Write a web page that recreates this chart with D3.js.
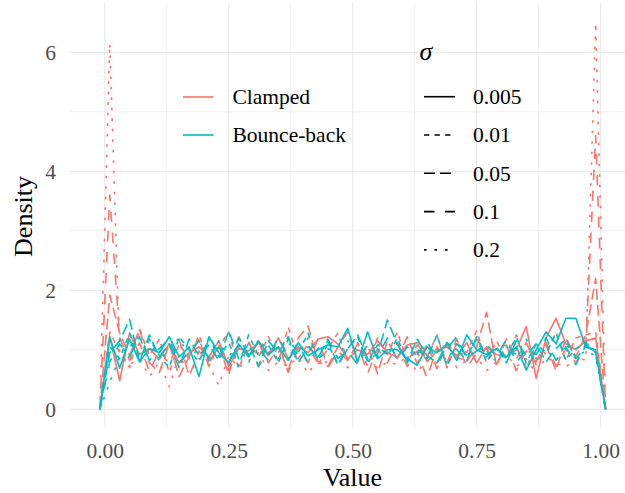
<!DOCTYPE html>
<html>
<head>
<meta charset="utf-8">
<script src="https://cdn.jsdelivr.net/npm/d3@7"></script>
<style>
  body { margin: 0; background: #fff; }
  svg text { font-family: "Liberation Serif", "Times New Roman", "DejaVu Serif", serif; }
</style>
</head>
<body>
<div id="chart"></div>
<script>
// bin centres of the frequency polygon (binwidth 0.02, one empty bin each side)
const binCenters = [
  -0.01, 0.01, 0.03, 0.05, 0.07, 0.09, 0.11, 0.13, 0.15, 0.17,
  0.19, 0.21, 0.23, 0.25, 0.27, 0.29, 0.31, 0.33, 0.35, 0.37,
  0.39, 0.41, 0.43, 0.45, 0.47, 0.49, 0.51, 0.53, 0.55, 0.57,
  0.59, 0.61, 0.63, 0.65, 0.67, 0.69, 0.71, 0.73, 0.75, 0.77,
  0.79, 0.81, 0.83, 0.85, 0.87, 0.89, 0.91, 0.93, 0.95, 0.97,
  0.99, 1.01
];

const methods = ["Clamped", "Bounce-back"];
const sigmaLabels = ["0.005", "0.01", "0.05", "0.1", "0.2"];

const xTicks = [0, 0.25, 0.5, 0.75, 1];
const xMinor = [0.125, 0.375, 0.625, 0.875];
const yTicks = [0, 2, 4, 6];
const yMinor = [1, 3, 5];

// Clamped
const clamped005 = [
  0, 1.22, 0.48, 1.28, 0.92, 1.02, 0.85, 1.10, 0.78, 0.95,
  1.05, 0.88, 1.15, 0.72, 1.02, 0.98, 1.12, 0.90, 1.20, 0.85,
  1.05, 0.95, 1.18, 1.22, 1.10, 0.85, 1.00, 0.92, 1.15, 0.95,
  0.88, 1.08, 1.12, 0.80, 0.98, 1.05, 0.90, 1.12, 0.78, 1.05,
  0.92, 0.88, 1.00, 1.39, 0.52, 1.20, 1.53, 1.10, 1.00, 1.15,
  1.20, 0
];
const clamped01 = [
  0, 1.30, 0.95, 0.70, 1.35, 0.90, 1.18, 0.62, 1.10, 0.85,
  1.25, 0.78, 1.05, 1.30, 0.68, 1.12, 0.88, 1.22, 0.80, 1.38,
  0.85, 1.10, 0.75, 1.02, 1.28, 0.82, 1.12, 0.72, 1.20, 0.92,
  1.30, 0.80, 1.08, 0.88, 1.25, 0.70, 1.12, 0.95, 1.32, 0.78,
  1.15, 0.85, 1.25, 0.68, 1.10, 0.92, 1.30, 0.82, 1.20, 1.25,
  1.30, 0
];
const clamped05 = [
  0, 1.92, 1.28, 0.90, 1.35, 0.78, 0.62, 1.10, 0.55, 0.88,
  1.18, 0.72, 1.08, 0.58, 1.22, 0.90, 1.12, 0.78, 1.05, 0.65,
  1.20, 1.40, 0.80, 0.72, 1.05, 1.30, 0.80, 1.08, 0.60, 1.15,
  0.85, 1.22, 0.76, 1.10, 0.68, 1.12, 0.88, 0.80, 1.05, 1.63,
  0.72, 1.18, 0.85, 1.12, 0.75, 1.08, 0.65, 1.20, 0.88, 1.25,
  2.20, 0
];
const clamped1 = [
  0, 3.60, 1.20, 0.82, 1.12, 0.62, 1.00, 0.75, 1.18, 0.55,
  0.98, 0.78, 1.08, 0.65, 1.05, 1.15, 0.72, 0.95, 1.12, 0.62,
  1.02, 0.78, 1.18, 0.70, 0.98, 0.82, 1.10, 0.60, 1.02, 0.78,
  1.12, 0.72, 0.98, 0.52, 1.05, 0.78, 1.18, 0.70, 0.95, 1.02,
  0.75, 1.08, 0.65, 0.98, 0.80, 1.12, 0.72, 1.02, 0.78, 1.08,
  4.60, 0
];
const clamped2 = [
  0, 6.15, 0.95, 0.75, 0.85, 0.55, 0.80, 0.38, 0.92, 0.60,
  0.85, 0.75, 0.40, 0.90, 0.70, 0.82, 0.95, 0.65, 0.80, 0.72,
  0.88, 0.60, 0.85, 0.78, 0.92, 0.70, 0.82, 0.95, 0.68, 0.80,
  0.75, 0.90, 0.62, 0.85, 0.78, 0.95, 0.70, 0.82, 0.88, 0.65,
  0.80, 0.92, 0.72, 0.85, 0.60, 0.88, 0.78, 0.70, 0.90, 0.82,
  6.50, 0
];

// Bounce-back
const bounce005 = [
  0, 1.22, 0.69, 1.18, 0.80, 1.02, 0.95, 1.22, 0.88, 1.05,
  0.55, 1.22, 0.95, 0.78, 1.10, 0.88, 1.15, 0.92, 1.05, 0.82,
  1.12, 0.90, 1.00, 1.08, 1.05, 1.36, 0.80, 1.30, 0.85, 1.00,
  1.00, 0.85, 0.74, 1.05, 0.95, 1.10, 0.82, 1.25, 1.00, 0.92,
  1.02, 0.88, 1.05, 0.66, 1.00, 1.30, 1.10, 1.53, 1.53, 1.05,
  1.00, 0
];
const bounce01 = [
  0, 1.05, 0.85, 1.28, 0.78, 1.18, 0.90, 0.70, 1.22, 1.00,
  0.80, 1.20, 0.88, 1.12, 0.72, 1.25, 0.90, 1.08, 0.78, 1.18,
  0.95, 1.28, 0.82, 1.10, 0.75, 1.02, 1.22, 0.80, 1.08, 0.90,
  1.20, 0.78, 1.02, 0.85, 1.25, 0.72, 1.10, 0.90, 1.18, 0.80,
  1.02, 0.85, 1.22, 0.78, 1.10, 0.95, 1.28, 0.82, 1.02, 1.12,
  0.95, 0
];
const bounce05 = [
  0, 0.95, 1.15, 1.51, 0.80, 1.25, 0.88, 1.10, 0.70, 1.18,
  0.90, 1.08, 0.82, 1.32, 0.85, 1.10, 0.72, 1.15, 0.95, 1.22,
  0.78, 1.05, 0.88, 1.15, 0.75, 1.02, 1.25, 0.85, 0.92, 1.50,
  1.10, 0.80, 1.18, 0.90, 0.78, 1.12, 1.00, 0.82, 1.22, 0.88,
  1.05, 0.78, 1.15, 0.90, 1.10, 0.80, 1.02, 1.18, 0.85, 1.05,
  0.98, 0
];
const bounce1 = [
  0, 0.80, 1.10, 0.88, 1.22, 0.82, 1.02, 1.18, 0.78, 0.98,
  1.15, 0.85, 1.05, 0.78, 1.20, 0.92, 1.02, 0.82, 1.22, 0.88,
  1.10, 0.78, 1.02, 1.18, 0.85, 0.98, 0.75, 1.10, 0.88, 1.20,
  0.82, 1.05, 0.92, 1.15, 0.78, 1.02, 1.22, 0.85, 0.98, 1.10,
  0.88, 1.18, 0.78, 1.02, 0.92, 1.20, 0.82, 1.05, 0.75, 1.10,
  0.92, 0
];
const bounce2 = [
  0, 0.45, 0.88, 1.10, 0.92, 1.18, 0.80, 1.02, 1.20, 0.88,
  1.02, 0.82, 1.15, 0.90, 1.05, 0.78, 1.18, 0.98, 0.85, 1.12,
  0.92, 1.20, 0.82, 1.02, 0.88, 1.15, 0.98, 0.78, 1.10, 0.92,
  1.05, 0.85, 1.18, 0.92, 1.02, 0.82, 1.10, 0.88, 1.15, 0.98,
  0.80, 1.05, 0.92, 1.18, 0.85, 1.02, 0.82, 1.10, 0.88, 0.98,
  0.90, 0
];

const seriesValues = {
  "Clamped": [clamped005, clamped01, clamped05, clamped1, clamped2],
  "Bounce-back": [bounce005, bounce01, bounce05, bounce1, bounce2]
};

const colors = { "Clamped": "#F8766D", "Bounce-back": "#00BFC4" };
const dashes = ["none", "5.3,5.3", "11,5", "10.5,10.5", "2.6,7.9"];

const width = 625;
const height = 493;
const panel = { left: 70, right: 625, top: 3, bottom: 427.5 };
const serif = "'Liberation Serif', 'Times New Roman', 'DejaVu Serif', serif";

const svg = d3
  .select("#chart")
  .append("svg")
  .attr("width", width)
  .attr("height", height)
  .attr("font-family", serif);

// scales
const x = d3.scaleLinear().domain([-0.0702, 1.0492]).range([panel.left, panel.right]);
const y = d3.scaleLinear().domain([-0.306, 6.829]).range([panel.bottom, panel.top]);

// grid
const grid = svg.append("g").attr("stroke", "#EBEBEB").attr("fill", "none");
grid.selectAll(".xminor").data(xMinor).enter().append("line")
  .attr("x1", (d) => x(d)).attr("x2", (d) => x(d))
  .attr("y1", panel.top).attr("y2", panel.bottom).attr("stroke-width", 0.7);
grid.selectAll(".yminor").data(yMinor).enter().append("line")
  .attr("x1", panel.left).attr("x2", panel.right)
  .attr("y1", (d) => y(d)).attr("y2", (d) => y(d)).attr("stroke-width", 0.7);
grid.selectAll(".xmajor").data(xTicks).enter().append("line")
  .attr("x1", (d) => x(d)).attr("x2", (d) => x(d))
  .attr("y1", panel.top).attr("y2", panel.bottom).attr("stroke-width", 1.3);
grid.selectAll(".ymajor").data(yTicks).enter().append("line")
  .attr("x1", panel.left).attr("x2", panel.right)
  .attr("y1", (d) => y(d)).attr("y2", (d) => y(d)).attr("stroke-width", 1.3);

// lines
const line = d3.line()
  .x((d, i) => x(binCenters[i]))
  .y((d) => y(d));

methods.forEach((m) => {
  seriesValues[m].forEach((vals, k) => {
    svg.append("path")
      .datum(vals)
      .attr("fill", "none")
      .attr("stroke", colors[m])
      .attr("stroke-width", 1.6)
      .attr("stroke-dasharray", dashes[k])
      .attr("stroke-linejoin", "round")
      .attr("d", line);
  });
});

// axes
const xAxis = svg.append("g")
  .attr("transform", `translate(0,${panel.bottom})`)
  .call(d3.axisBottom(x).tickValues(xTicks).tickFormat(d3.format(".2f")).tickSize(0).tickPadding(15.2));
const yAxis = svg.append("g")
  .attr("transform", `translate(${panel.left},0)`)
  .call(d3.axisLeft(y).tickValues(yTicks).tickSize(0).tickPadding(14));
[xAxis, yAxis].forEach((a) => {
  a.attr("font-family", serif).attr("font-size", null);
  a.select(".domain").remove();
  a.selectAll("text")
    .attr("fill", "#4D4D4D")
    .attr("font-family", serif)
    .style("font-size", "21.5px");
});

// axis titles
svg.append("text")
  .attr("x", 352.5).attr("y", 486)
  .attr("text-anchor", "middle")
  .attr("font-family", serif)
  .style("font-size", "26px")
  .text("Value");
svg.append("text")
  .attr("transform", "translate(32,216.5) rotate(-90)")
  .attr("text-anchor", "middle")
  .attr("font-family", serif)
  .style("font-size", "26px")
  .text("Density");

// colour legend
const legC = svg.append("g");
methods.forEach((m, i) => {
  const yy = 97 + i * 38;
  legC.append("line")
    .attr("x1", 183).attr("x2", 213.5).attr("y1", yy).attr("y2", yy)
    .attr("stroke", colors[m]).attr("stroke-width", 1.6);
  legC.append("text")
    .attr("x", 232.5).attr("y", yy).attr("dy", "0.34em")
    .attr("font-family", serif)
    .style("font-size", "21.5px")
    .text(m);
});

// sigma legend
const legS = svg.append("g");
legS.append("text")
  .attr("x", 419.5).attr("y", 60)
  .attr("font-family", serif)
  .style("font-size", "26px")
  .style("font-style", "italic")
  .text("σ");
sigmaLabels.forEach((s, k) => {
  const yy = 96.7 + k * 38.3;
  legS.append("line")
    .attr("x1", 424).attr("x2", 455).attr("y1", yy).attr("y2", yy)
    .attr("stroke", "#000").attr("stroke-width", 1.6)
    .attr("stroke-dasharray", dashes[k]);
  legS.append("text")
    .attr("x", 473).attr("y", yy).attr("dy", "0.34em")
    .attr("font-family", serif)
    .style("font-size", "21.5px")
    .text(s);
});
</script>
</body>
</html>
